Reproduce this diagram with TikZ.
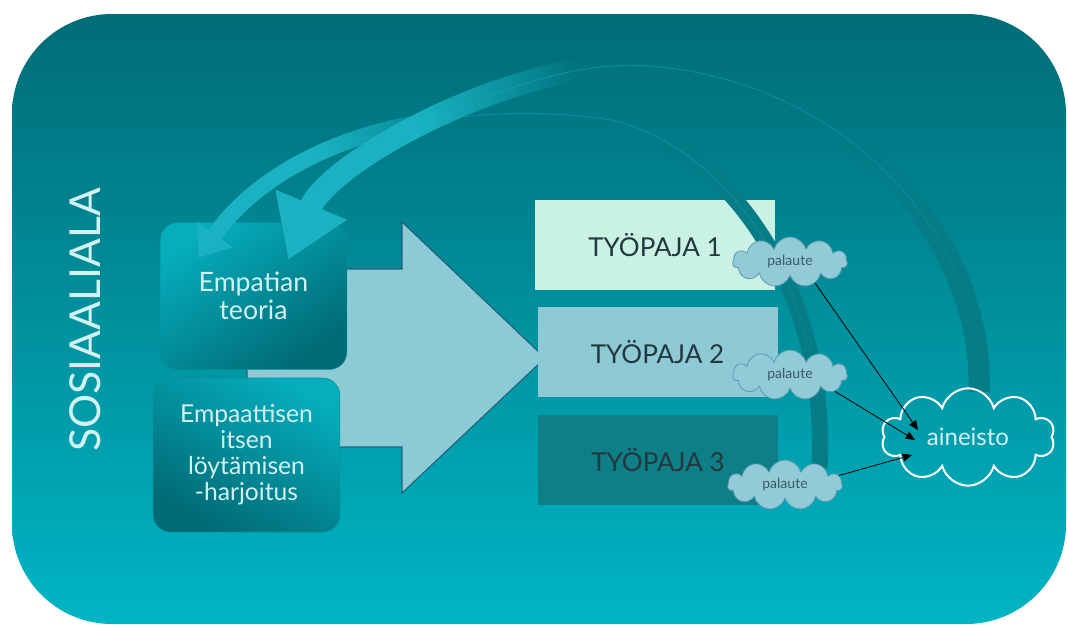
\documentclass[tikz,border=0pt]{standalone}
\usepackage{fontspec}
\setmainfont{Lato}
\usetikzlibrary{positioning,arrows.meta,shapes.symbols,fadings}
\definecolor{bgtop}{HTML}{006C76}
\definecolor{bgbot}{HTML}{00B5C5}
\definecolor{teolight}{HTML}{05ADBD}
\definecolor{teodark}{HTML}{006A74}
\definecolor{boxedge}{HTML}{0A8C98}
\definecolor{boxtxt}{HTML}{D2F1F2}
\definecolor{arrowfill}{HTML}{8CCBD6}
\definecolor{arrowedge}{HTML}{22607A}
\definecolor{wsone}{HTML}{C9F2E4}
\definecolor{wstwo}{HTML}{8DCAD5}
\definecolor{wsthree}{HTML}{0E7E87}
\definecolor{wstxt}{HTML}{22383C}
\definecolor{fbfill}{HTML}{92CBD7}
\definecolor{fbedge}{HTML}{5A9DAE}
\definecolor{fbtxt}{HTML}{3A5A62}
\definecolor{bandbase}{HTML}{067C87}
\definecolor{bandlight}{HTML}{1AB2C2}
\pgfdeclarehorizontalshading{lightsh}{100bp}{color(0bp)=(pgftransparent!0); color(35bp)=(pgftransparent!0); color(46bp)=(pgftransparent!100); color(100bp)=(pgftransparent!100)}
\pgfdeclareverticalshading{outersh}{100bp}{color(0bp)=(pgftransparent!0); color(50bp)=(pgftransparent!0); color(63bp)=(pgftransparent!100); color(100bp)=(pgftransparent!100)}
\pgfdeclareverticalshading{innersh}{100bp}{color(0bp)=(pgftransparent!0); color(62bp)=(pgftransparent!0); color(69bp)=(pgftransparent!100); color(100bp)=(pgftransparent!100)}
\tikzfading[name=fadelight, shading=lightsh]
\tikzfading[name=fadeouter, shading=outersh]
\tikzfading[name=fadeinner, shading=innersh]
\tikzstyle{box}=[rounded corners=13pt, draw=boxedge, line width=0.4pt, text=boxtxt, align=center, inner sep=0pt]
\tikzstyle{ws}=[minimum width=180pt, minimum height=67.5pt, inner sep=0pt, text=wstxt, font=\fontsize{19.5}{20}\selectfont]
\tikzstyle{fb}=[cloud, cloud puffs=11, aspect=2.3, draw=fbedge, line width=0.6pt, fill=fbfill, text=fbtxt, minimum width=86pt, minimum height=37.5pt, inner sep=0pt, font=\fontsize{10.5}{12}\selectfont]
\tikzstyle{fbarrow}=[-{Triangle[length=7pt,width=6pt]}, line width=0.6pt, black]
\tikzstyle{glint}=[bandlight, line width=0.8pt, opacity=0.4, path fading=south]

\begin{document}
\begin{tikzpicture}[x=0.75pt,y=-0.75pt]
	\fill[white] (0,0) rectangle (1068,625);
	\useasboundingbox (0,0) rectangle (1068,625);
	\shade[top color=bgtop, bottom color=bgbot, rounded corners=75pt] (12,14) rectangle (1066,624);
	\node[text=boxtxt, rotate=90, font=\fontsize{32}{32}\selectfont] (sos) at (85,320) {SOSIAALIALA};
	
	% big arrow behind the boxes
	\draw[fill=arrowfill, draw=arrowedge, line width=0.8pt] (247,269) -- (402,269) -- (402,222) -- (545,358) -- (402,493) -- (402,447) -- (247,447) -- cycle;
	
	\node[box, top color=teolight, bottom color=teodark, shading angle=35, minimum width=140pt, minimum height=110pt, font=\fontsize{20}{21}\selectfont] (teo) at (253.5,296) {Empatian\\teoria};
	\node[box, top color=teolight, bottom color=teodark, shading angle=-30, minimum width=140pt, minimum height=115.5pt, font=\fontsize{18.5}{19.5}\selectfont] (har) at (246.5,455) {Empaattisen\\itsen\\löytämisen\\-harjoitus};
	
	\node[ws, fill=wsone] (ty1) at (655,245) {TYÖPAJA 1};
	\node[ws, fill=wstwo] (ty2) at (657.5,352) {TYÖPAJA 2};
	\node[ws, fill=wsthree] (ty3) at (658,460) {TYÖPAJA 3};
	
	\coordinate (oA) at (980,392);
	\coordinate (oB) at (288,260);
	\coordinate (iA) at (820,468);
	\coordinate (iB) at (198,258);
	\draw[bandbase, line width=16pt, path fading=fadeouter, -{Triangle[width=55pt,length=45pt]}] (oA) .. controls (985,230) and (840,80) .. (650,66) .. controls (520,56) and (330,160) .. (oB);
	\draw[bandlight, line width=17pt, path fading=fadelight, -{Triangle[width=55pt,length=45pt]}] (oA) .. controls (985,230) and (840,80) .. (650,66) .. controls (520,56) and (330,160) .. (oB);
	\draw[glint] (oA) .. controls (985,230) and (840,80) .. (650,66) .. controls (520,56) and (330,160) .. (oB);
	\draw[bandbase, line width=12pt, path fading=fadeinner, -{Triangle[width=32pt,length=22pt]}] (iA) .. controls (830,260) and (700,130) .. (600,118) .. controls (460,100) and (290,130) .. (iB);
	\draw[bandlight, line width=12pt, path fading=fadelight, -{Triangle[width=32pt,length=22pt]}] (iA) .. controls (830,260) and (700,130) .. (600,118) .. controls (460,100) and (290,130) .. (iB);
	\draw[glint] (iA) .. controls (830,260) and (700,130) .. (600,118) .. controls (460,100) and (290,130) .. (iB);
	
	\node[fb] (fb1) at (790,262) {palaute};
	\node[fb] (fb2) at (790,375) {palaute};
	\node[fb] (fb3) at (785,485) {palaute};
	\node[cloud, cloud puffs=10, aspect=1.8, draw=white, line width=1.5pt, text=boxtxt, minimum width=130pt, minimum height=73pt, inner sep=0pt, font=\fontsize{18}{20}\selectfont] (dat) at (968,437) {aineisto};
	
	\coordinate (d1) at (918,430);
	\coordinate (d2) at (915,440);
	\coordinate (d3) at (912,455);
	\draw[fbarrow] (fb1.-40) -- (d1);
	\draw[fbarrow] (fb2.-20) -- (d2);
	\draw[fbarrow] (fb3.10) -- (d3);
\end{tikzpicture}
\end{document}
